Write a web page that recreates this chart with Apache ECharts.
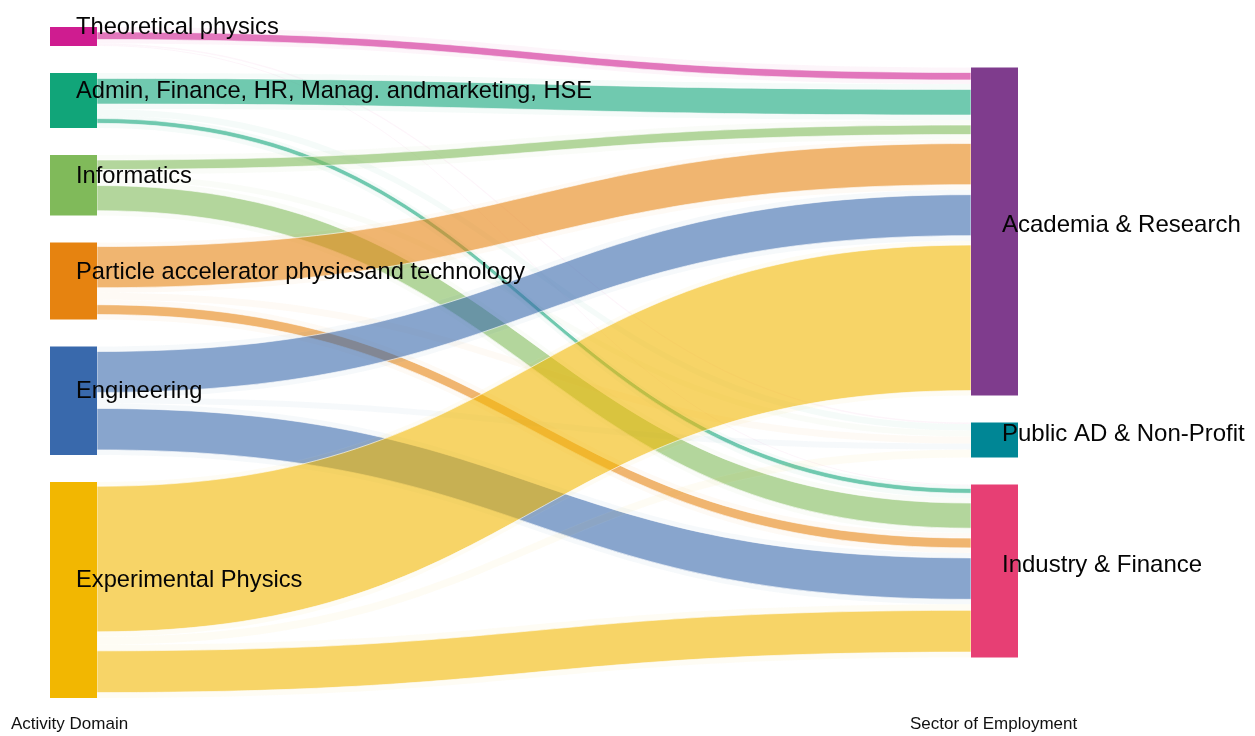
<!DOCTYPE html>
<html>
<head>
<meta charset="utf-8">
<script src="https://cdn.jsdelivr.net/npm/echarts@6/dist/echarts.min.js"></script>
<style>
  html, body { margin: 0; padding: 0; background: #fff; }
  #chart { width: 1255px; height: 736px; }
</style>
</head>
<body>
<div id="chart"></div>
<script>
// activity domains (left) and sectors (right)
const domains = [
  'Theoretical physics',
  'Admin, Finance, HR, Manag. andmarketing, HSE',
  'Informatics',
  'Particle accelerator physicsand technology',
  'Engineering',
  'Experimental Physics'
]
const domainColors = ['#CF1C90', '#11A579', '#80BA5A', '#E68310', '#3969AC', '#F2B701']
const sectors = ['Academia & Research', 'Public AD & Non-Profit', 'Industry & Finance']
const sectorColors = ['#7F3C8D', '#008695', '#E73F74']

// flows, one value per domain (same order as domains)
const academiaBefore = [5, 5.4, 5, 4, 5, 4.4]        // faint
const academiaMain = [7.5, 25.7, 9.5, 41.2, 41, 145.7]
const academiaAfter = [4, 5, 5, 5, 5, 5]              // faint
const publicFaint = [1.5, 6.5, 6, 7, 6, 8]            // faint
const industryBefore = [1, 3, 5, 5, 5, 6]             // faint
const industryMain = [0, 4.8, 25.2, 9.8, 41.5, 41.8]
const industryAfter = [0, 4.7, 4.9, 5, 5, 5.4]        // faint

const FAINT = 0.045
const SHOWN = 0.6

const links = []
function addLink(src, tgt, value, opacity) {
  if (!value) return
  links.push({ source: src, target: tgt, value: value, lineStyle: { opacity: opacity } })
}
domains.forEach(function (d, i) {
  addLink(d, sectors[0], academiaBefore[i], FAINT)
  addLink(d, sectors[0], academiaMain[i], SHOWN)
  addLink(d, sectors[0], academiaAfter[i], FAINT)
  addLink(d, sectors[1], publicFaint[i], FAINT)
  addLink(d, sectors[2], industryBefore[i], FAINT)
  addLink(d, sectors[2], industryMain[i], SHOWN)
  addLink(d, sectors[2], industryAfter[i], FAINT)
})

// layout box of the sankey
const boxTop = 27, boxBottom = 38, gap = 27
const H = 736 - boxTop - boxBottom

// right column is centred vertically, the left one fills the height
const total = links.reduce(function (s, l) { return s + l.value }, 0)
const ky = (H - (domains.length - 1) * gap) / total
const sectorTotals = sectors.map(function (s) {
  return links.filter(function (l) { return l.target === s }).reduce(function (a, l) { return a + l.value }, 0)
})
let yPos = (H - total * ky - (sectors.length - 1) * gap) / 2
const sectorLocalY = sectorTotals.map(function (t) {
  const v = yPos / H
  yPos += t * ky + gap
  return v
})

const nodes = []
domains.forEach(function (d, i) {
  nodes.push({
    name: d,
    itemStyle: { color: domainColors[i] },
    label: { position: 'insideLeft', offset: [21, -9], fontSize: 23.7 }
  })
})
sectors.forEach(function (s, i) {
  nodes.push({
    name: s,
    localY: sectorLocalY[i],
    itemStyle: { color: sectorColors[i] },
    label: { position: 'insideLeft', offset: [26, -6], fontSize: 24 }
  })
})

const myChart = echarts.init(document.getElementById('chart'))

const option = {
  backgroundColor: '#fff',
  animation: false,
  series: [{
    type: 'sankey',
    left: 50,
    right: 237,
    top: boxTop,
    bottom: boxBottom,
    nodeWidth: 47,
    nodeGap: gap,
    layoutIterations: 0,
    draggable: false,
    emphasis: { disabled: true },
    label: {
      color: '#050505',
      fontFamily: 'Liberation Sans, Arial, sans-serif'
    },
    itemStyle: { borderWidth: 0 },
    lineStyle: {
      color: 'source',
      curveness: 0.5,
      borderColor: '#fff',
      borderWidth: 1
    },
    data: nodes,
    links: links
  }],
  graphic: [
    {
      type: 'text',
      left: 11,
      top: 716,
      style: { text: 'Activity Domain', font: '17px "Liberation Sans", Arial, sans-serif', fill: '#111' }
    },
    {
      type: 'text',
      left: 910,
      top: 716,
      style: { text: 'Sector of Employment', font: '17px "Liberation Sans", Arial, sans-serif', fill: '#111' }
    }
  ]
}

myChart.setOption(option)
</script>
</body>
</html>
